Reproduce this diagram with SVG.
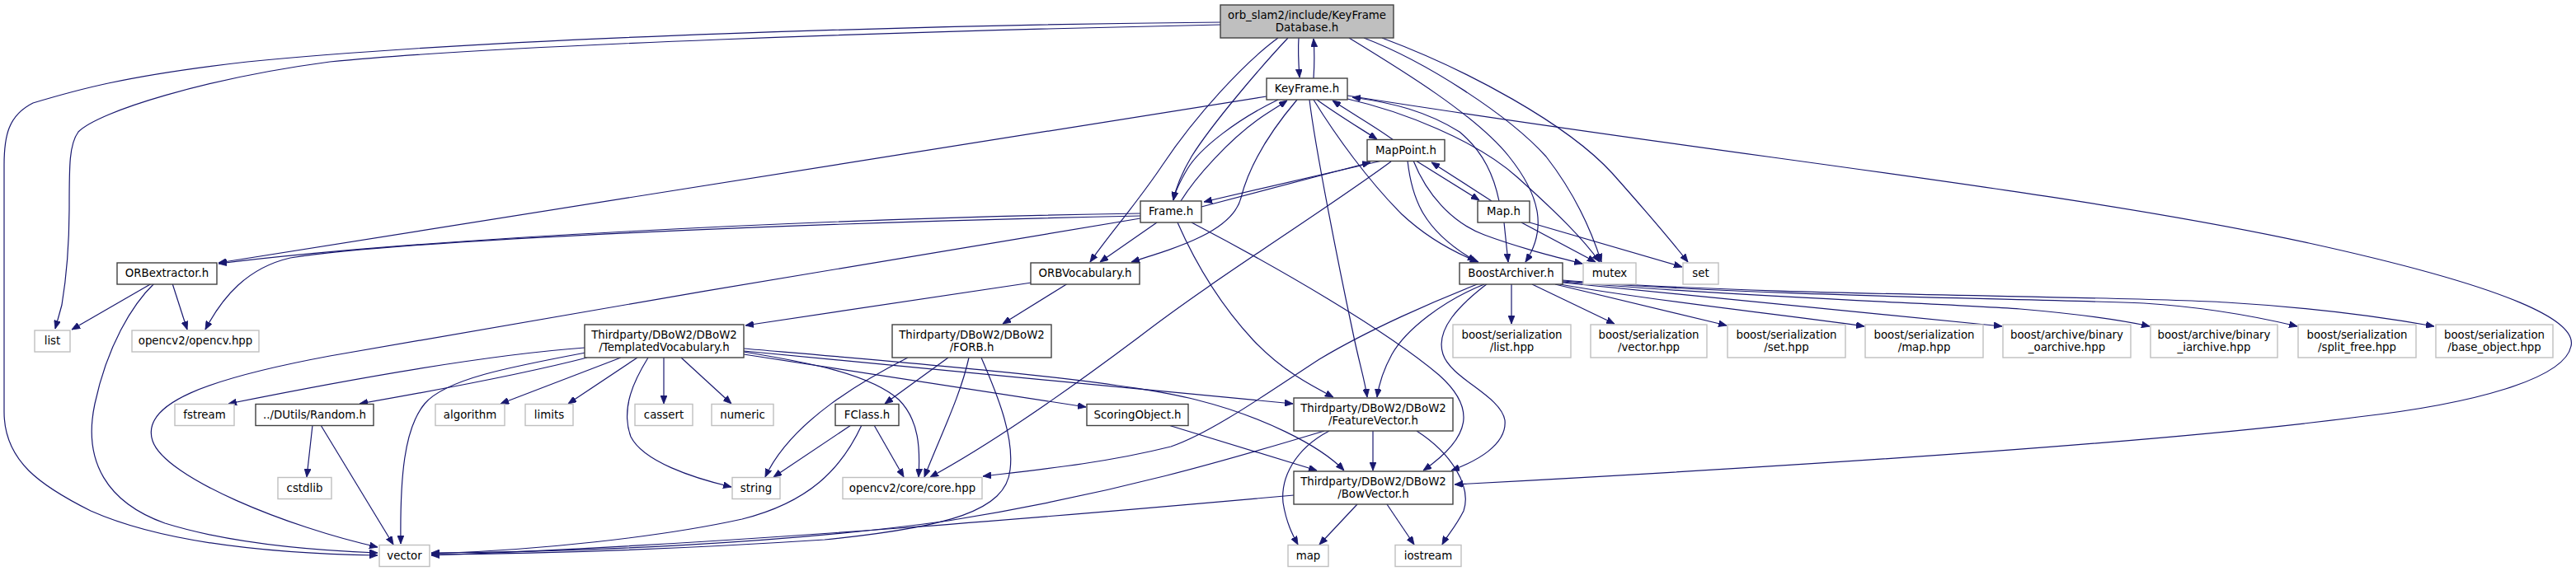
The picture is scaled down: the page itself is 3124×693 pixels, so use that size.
<svg xmlns="http://www.w3.org/2000/svg" width="3124" height="693" viewBox="0 0 3124 693">
<defs>
<marker id="a" viewBox="0 0 10 8" refX="10" refY="4" markerWidth="10" markerHeight="8" markerUnits="userSpaceOnUse" orient="auto"><path d="M0,0 L10,4 L0,8 z" fill="#191970" stroke="#191970" stroke-width="0.8"/></marker>
<style>
text{font-family:"DejaVu Sans","Liberation Sans",sans-serif;font-size:13.33px;text-anchor:middle;fill:#000}
.n rect{fill:#fff;stroke:#404040;stroke-width:1.4}
.x rect{fill:#fff;stroke:#bfbfbf;stroke-width:1.4}
.m rect{fill:#bfbfbf;stroke:#404040;stroke-width:1.4}
#edges path{fill:none;stroke:#191970;stroke-width:1.2;marker-end:url(#a)}
</style>
</defs>
<rect width="3124" height="693" fill="#fff"/>
<g id="edges">
<path d="M1480,27 C1150,30 600,45 300,75 C150,92 90,110 40,125 C10,140 5,165 5,200 L5,500 C5,560 50,590 110,620 C200,660 330,672 458,674"/>
<path d="M1480,30 C1100,38 600,55 400,75 C250,95 120,135 95,160 C84,175 84,200 84,250 C84,300 80,340 75,370 L67,399"/>
<path d="M1575,46 C1574,60 1575,80 1576,94"/>
<path d="M1593,95 C1594,80 1594,60 1593,47"/>
<path d="M1562,46 C1530,80 1470,150 1445,190 C1432,212 1426,228 1423,243"/>
<path d="M1550,46 C1510,75 1450,140 1410,200 C1380,245 1345,285 1322,318"/>
<path d="M1636,46 C1700,85 1790,140 1830,190 C1870,240 1875,280 1850,318"/>
<path d="M1654,46 C1730,75 1830,140 1875,190 C1910,235 1930,280 1942,318"/>
<path d="M1676,46 C1780,85 1900,150 1955,210 C1995,255 2025,290 2047,318"/>
<path d="M1536,117 L265,319"/>
<path d="M1597,121 C1620,138 1650,156 1670,169"/>
<path d="M1690,170 C1670,155 1640,138 1616,122"/>
<path d="M1550,121 C1500,145 1455,180 1440,205 C1430,222 1425,232 1423,243"/>
<path d="M1432,244 C1450,215 1490,170 1530,142 C1542,134 1552,128 1561,122"/>
<path d="M1573,121 C1540,160 1515,200 1505,240 C1495,280 1430,300 1372,318"/>
<path d="M1818,244 C1812,215 1800,185 1770,160 C1730,135 1690,125 1640,118"/>
<path d="M1634,120 C1700,135 1790,170 1840,215 C1890,260 1920,290 1940,318"/>
<path d="M1593,121 C1620,165 1660,220 1700,260 C1730,288 1760,305 1793,318"/>
<path d="M1588,121 C1595,180 1625,330 1640,400 C1648,440 1655,460 1658,482"/>
<path d="M1634,116 C2100,190 2500,230 2800,295 C3050,350 3125,390 3118,420 C3110,460 3000,490 2860,506 C2600,540 2100,570 1764,588"/>
<path d="M1676,195 L1460,245"/>
<path d="M1457,251 L1662,197"/>
<path d="M1717,195 L1794,243"/>
<path d="M1809,244 L1736,197"/>
<path d="M1687,196 C1600,260 1470,340 1380,410 C1300,470 1200,540 1128,579"/>
<path d="M1714,195 C1730,235 1760,270 1800,285 C1840,300 1880,310 1919,320"/>
<path d="M1707,195 C1712,240 1725,280 1790,317"/>
<path d="M1824,270 L1829,318"/>
<path d="M1845,270 L1935,318"/>
<path d="M1855,270 L2040,324"/>
<path d="M1383,259 C1000,265 500,290 265,320"/>
<path d="M1383,262 C1000,270 500,290 352,313 C300,325 270,360 249,400"/>
<path d="M1383,265 C1100,310 700,380 400,432 C250,460 170,490 185,535 C200,580 350,640 458,664"/>
<path d="M1403,270 L1334,318"/>
<path d="M1428,270 C1450,320 1480,370 1520,413 C1555,450 1590,468 1617,482"/>
<path d="M1445,270 C1550,325 1680,400 1745,455 C1790,495 1785,530 1726,571"/>
<path d="M184,344 L87,400"/>
<path d="M209,344 L227,400"/>
<path d="M187,344 C160,370 130,420 115,490 C100,560 130,610 200,635 C280,660 380,668 458,671"/>
<path d="M1251,343 L904,395"/>
<path d="M1295,344 L1216,393"/>
<path d="M709,422 C600,430 450,455 277,490"/>
<path d="M712,434 C650,450 550,470 436,490"/>
<path d="M710,428 C620,445 540,460 515,490 C490,520 485,580 486,660"/>
<path d="M753,434 L607,490"/>
<path d="M773,434 L689,490"/>
<path d="M786,434 C770,460 752,495 765,530 C780,560 840,580 887,591"/>
<path d="M805,434 L805,490"/>
<path d="M826,434 L887,490"/>
<path d="M902,427 C960,437 1050,450 1090,485 C1115,510 1116,545 1114,579"/>
<path d="M902,430 L1317,494"/>
<path d="M902,426 L1568,490"/>
<path d="M902,423 C1100,440 1350,460 1450,485 C1530,505 1600,540 1630,571"/>
<path d="M1101,434 C1050,460 960,510 928,579"/>
<path d="M1150,434 L1073,490"/>
<path d="M1175,434 C1165,480 1140,530 1121,579"/>
<path d="M1190,434 C1210,480 1230,530 1225,570 C1220,620 1150,640 1000,655 C800,668 650,672 523,673"/>
<path d="M1032,516 L938,579"/>
<path d="M1060,516 L1096,579"/>
<path d="M1045,516 C1020,570 980,610 900,630 C800,652 650,668 523,672"/>
<path d="M379,516 L372,579"/>
<path d="M389,516 L477,661"/>
<path d="M1417,516 L1597,571"/>
<path d="M1665,523 L1665,571"/>
<path d="M1612,523 C1570,545 1553,580 1556,610 C1560,635 1568,650 1574,661"/>
<path d="M1718,523 C1760,550 1785,590 1775,620 C1765,640 1755,650 1749,661"/>
<path d="M1606,523 C1500,555 1350,600 1150,632 C950,660 700,670 523,671"/>
<path d="M1646,612 L1600,661"/>
<path d="M1682,612 L1715,661"/>
<path d="M1569,601 C1300,625 900,660 523,674"/>
<path d="M1833,345 L1833,393"/>
<path d="M1858,345 L1958,393"/>
<path d="M1886,345 L2094,395"/>
<path d="M1892,345 C2000,365 2150,380 2261,396"/>
<path d="M1895,343 C2100,365 2300,382 2428,396"/>
<path d="M1895,342 C2100,360 2350,368 2450,375 C2520,381 2570,388 2607,396"/>
<path d="M1895,341 C2150,360 2450,362 2600,368 C2680,373 2740,385 2786,396"/>
<path d="M1895,340 C2150,360 2550,358 2700,367 C2800,373 2880,383 2952,396"/>
<path d="M1794,344 C1740,365 1660,400 1600,436 C1540,475 1470,525 1420,542 C1340,562 1260,570 1192,578"/>
<path d="M1800,345 C1750,365 1705,400 1688,430 C1676,452 1672,468 1670,482"/>
<path d="M1804,344 C1770,370 1740,400 1750,430 C1760,460 1820,480 1825,510 C1828,540 1790,560 1760,571"/>
</g>
<g id="node-main" class="m"><rect x="1480" y="6" width="210" height="40"/><text x="1585" y="22.5">orb_slam2/include/KeyFrame</text><text x="1585" y="37.5">Database.h</text></g>
<g id="node-keyframe" class="n"><rect x="1536" y="95" width="98" height="26"/><text x="1585" y="112">KeyFrame.h</text></g>
<g id="node-mappoint" class="n"><rect x="1658" y="169.5" width="94" height="26"/><text x="1705" y="186.5">MapPoint.h</text></g>
<g id="node-frame" class="n"><rect x="1383" y="244" width="74" height="26"/><text x="1420" y="261">Frame.h</text></g>
<g id="node-map" class="n"><rect x="1792" y="244" width="63" height="26"/><text x="1823.5" y="261">Map.h</text></g>
<g id="node-orbextractor" class="n"><rect x="142" y="319" width="121" height="26"/><text x="202.5" y="336">ORBextractor.h</text></g>
<g id="node-orbvocabulary" class="n"><rect x="1250" y="319" width="132" height="26"/><text x="1316" y="336">ORBVocabulary.h</text></g>
<g id="node-boostarchiver" class="n"><rect x="1770" y="319" width="125" height="26"/><text x="1832.5" y="336">BoostArchiver.h</text></g>
<g id="node-mutex" class="x"><rect x="1920" y="319" width="64" height="26"/><text x="1952" y="336">mutex</text></g>
<g id="node-set" class="x"><rect x="2041" y="319" width="43" height="26"/><text x="2062.5" y="336">set</text></g>
<g id="node-list" class="x"><rect x="42" y="401" width="43" height="26"/><text x="63.5" y="418">list</text></g>
<g id="node-opencv" class="x"><rect x="160" y="401" width="154" height="26"/><text x="237" y="418">opencv2/opencv.hpp</text></g>
<g id="node-templatedvocabulary" class="n"><rect x="709" y="394" width="193" height="40"/><text x="805.5" y="410.5">Thirdparty/DBoW2/DBoW2</text><text x="805.5" y="425.5">/TemplatedVocabulary.h</text></g>
<g id="node-forb" class="n"><rect x="1082" y="394" width="193" height="40"/><text x="1178.5" y="410.5">Thirdparty/DBoW2/DBoW2</text><text x="1178.5" y="425.5">/FORB.h</text></g>
<g id="node-bs-list" class="x"><rect x="1762" y="394" width="143" height="40"/><text x="1833.5" y="410.5">boost/serialization</text><text x="1833.5" y="425.5">/list.hpp</text></g>
<g id="node-bs-vector" class="x"><rect x="1929" y="394" width="141" height="40"/><text x="1999.5" y="410.5">boost/serialization</text><text x="1999.5" y="425.5">/vector.hpp</text></g>
<g id="node-bs-set" class="x"><rect x="2095" y="394" width="143" height="40"/><text x="2166.5" y="410.5">boost/serialization</text><text x="2166.5" y="425.5">/set.hpp</text></g>
<g id="node-bs-map" class="x"><rect x="2262" y="394" width="143" height="40"/><text x="2333.5" y="410.5">boost/serialization</text><text x="2333.5" y="425.5">/map.hpp</text></g>
<g id="node-oarchive" class="x"><rect x="2429" y="394" width="155" height="40"/><text x="2506.5" y="410.5">boost/archive/binary</text><text x="2506.5" y="425.5">_oarchive.hpp</text></g>
<g id="node-iarchive" class="x"><rect x="2608" y="394" width="154" height="40"/><text x="2685" y="410.5">boost/archive/binary</text><text x="2685" y="425.5">_iarchive.hpp</text></g>
<g id="node-splitfree" class="x"><rect x="2787" y="394" width="143" height="40"/><text x="2858.5" y="410.5">boost/serialization</text><text x="2858.5" y="425.5">/split_free.hpp</text></g>
<g id="node-baseobject" class="x"><rect x="2954" y="394" width="142" height="40"/><text x="3025" y="410.5">boost/serialization</text><text x="3025" y="425.5">/base_object.hpp</text></g>
<g id="node-fstream" class="x"><rect x="212" y="490.5" width="72" height="26"/><text x="248" y="507.5">fstream</text></g>
<g id="node-random" class="n"><rect x="310" y="490.5" width="143" height="26"/><text x="381.5" y="507.5">../DUtils/Random.h</text></g>
<g id="node-algorithm" class="x"><rect x="528" y="490.5" width="84" height="26"/><text x="570" y="507.5">algorithm</text></g>
<g id="node-limits" class="x"><rect x="637" y="490.5" width="58" height="26"/><text x="666" y="507.5">limits</text></g>
<g id="node-cassert" class="x"><rect x="770" y="490.5" width="70" height="26"/><text x="805" y="507.5">cassert</text></g>
<g id="node-numeric" class="x"><rect x="863" y="490.5" width="75" height="26"/><text x="900.5" y="507.5">numeric</text></g>
<g id="node-fclass" class="n"><rect x="1013" y="490.5" width="77" height="26"/><text x="1051.5" y="507.5">FClass.h</text></g>
<g id="node-scoringobject" class="n"><rect x="1318" y="490.5" width="123" height="26"/><text x="1379.5" y="507.5">ScoringObject.h</text></g>
<g id="node-featurevector" class="n"><rect x="1569" y="483" width="193" height="40"/><text x="1665.5" y="499.5">Thirdparty/DBoW2/DBoW2</text><text x="1665.5" y="514.5">/FeatureVector.h</text></g>
<g id="node-bowvector" class="n"><rect x="1569" y="572" width="193" height="40"/><text x="1665.5" y="588.5">Thirdparty/DBoW2/DBoW2</text><text x="1665.5" y="603.5">/BowVector.h</text></g>
<g id="node-cstdlib" class="x"><rect x="337" y="579.5" width="65" height="26"/><text x="369.5" y="596.5">cstdlib</text></g>
<g id="node-string" class="x"><rect x="888" y="579.5" width="58" height="26"/><text x="917" y="596.5">string</text></g>
<g id="node-core" class="x"><rect x="1022" y="579.5" width="169" height="26"/><text x="1106.5" y="596.5">opencv2/core/core.hpp</text></g>
<g id="node-vector" class="x"><rect x="460" y="661.5" width="61" height="26"/><text x="490.5" y="678.5">vector</text></g>
<g id="node-map-std" class="x"><rect x="1562" y="661.5" width="49" height="26"/><text x="1586.5" y="678.5">map</text></g>
<g id="node-iostream" class="x"><rect x="1692" y="661.5" width="80" height="26"/><text x="1732" y="678.5">iostream</text></g>
</svg>
